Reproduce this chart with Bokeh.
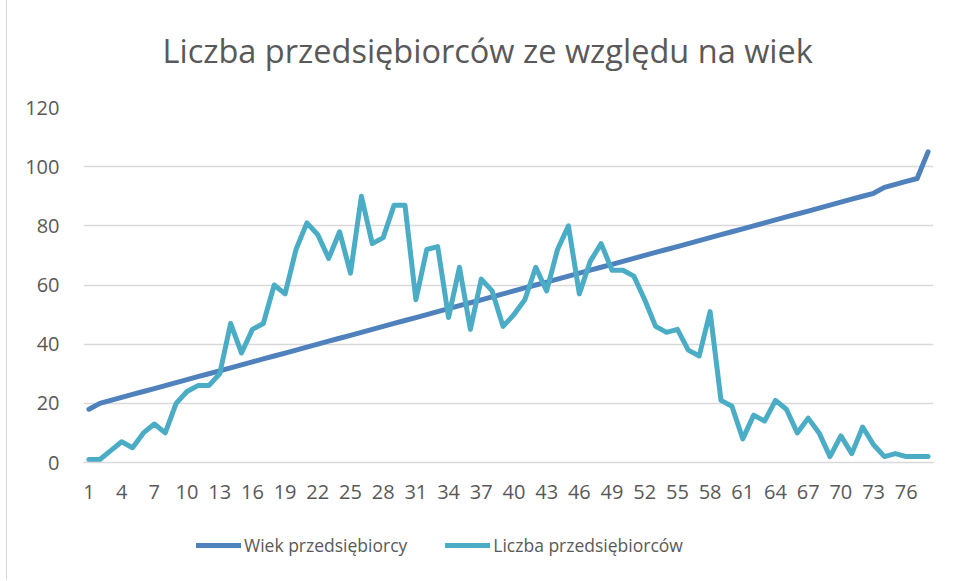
from bokeh.plotting import figure
from bokeh.layouts import column
from bokeh.models import FixedTicker, Legend, LegendItem, ColumnDataSource
from bokeh.embed import file_html
from bokeh.resources import INLINE

# Data
positions = list(range(1, 79))
wiek = [18] + list(range(20, 92)) + [93, 94, 95, 96, 105]
liczba = [1, 1, 4, 7, 5, 10, 13, 10, 20, 24,
          26, 26, 30, 47, 37, 45, 47, 60, 57, 72,
          81, 77, 69, 78, 64, 90, 74, 76, 87, 87,
          55, 72, 73, 49, 66, 45, 62, 58, 46, 50,
          55, 66, 58, 72, 80, 57, 68, 74, 65, 65,
          63, 55, 46, 44, 45, 38, 36, 51, 21, 19,
          8, 16, 14, 21, 18, 10, 15, 10, 2, 9,
          3, 12, 6, 2, 3, 2, 2, 2]
x_ticks = list(range(1, 79, 3))
y_ticks = [0, 20, 40, 60, 80, 100, 120]
title_text = "Liczba przedsiębiorców ze względu na wiek"
series_names = ["Wiek przedsiębiorcy", "Liczba przedsiębiorców"]
colors = ["#4F81BD", "#4BACC6"]

FONT = "Open Sans"
GREY = "#595959"

src = ColumnDataSource(data=dict(x=positions, wiek=wiek, liczba=liczba))

# main chart
p = figure(width=948, height=521, output_backend="svg", toolbar_location=None,
           x_range=(0.5, 78.5), y_range=(0, 120),
           min_border_left=76, min_border_right=22, min_border_top=116, min_border_bottom=50)
p.background_fill_color = "white"
p.border_fill_color = "white"
p.outline_line_color = None

p.title.text = title_text
p.title.align = "left"
p.title.offset = 79
p.title.text_font = FONT
p.title.text_font_size = "32.5px"
p.title.text_font_style = "normal"
p.title.text_color = GREY
p.title.standoff = 69

line_kw = dict(line_width=5, line_join="round", line_cap="round")
r1 = p.line("x", "wiek", source=src, line_color=colors[0], **line_kw)
r2 = p.line("x", "liczba", source=src, line_color=colors[1], **line_kw)

p.xaxis.ticker = FixedTicker(ticks=x_ticks)
p.yaxis.ticker = FixedTicker(ticks=y_ticks)
for ax in (p.xaxis, p.yaxis):
    ax.major_tick_line_color = None
    ax.minor_tick_line_color = None
    ax.major_label_text_font = FONT
    ax.major_label_text_font_size = "20px"
    ax.major_label_text_color = GREY
p.xaxis.axis_line_color = "#d9d9d9"
p.xaxis.axis_line_width = 1.5
p.yaxis.axis_line_color = None
p.xaxis.major_label_standoff = 16
p.yaxis.major_label_standoff = 18

p.xgrid.grid_line_color = None
p.ygrid.grid_line_color = "#d9d9d9"
p.ygrid.grid_line_width = 1.5

# legend strip below the chart
p2 = figure(width=948, height=68, output_backend="svg", toolbar_location=None,
            x_range=(0.5, 78.5), y_range=(0, 120), x_axis_type=None, y_axis_type=None,
            min_border=0)
p2.background_fill_color = "white"
p2.border_fill_color = "white"
p2.outline_line_color = None
p2.grid.grid_line_color = None
l1 = p2.line("x", "wiek", source=src, line_color=colors[0], visible=False, **line_kw)
l2 = p2.line("x", "liczba", source=src, line_color=colors[1], visible=False, **line_kw)

legend = Legend(items=[LegendItem(label=series_names[0], renderers=[l1]),
                       LegendItem(label=series_names[1], renderers=[l2])],
                orientation="horizontal", location=(113, 22),
                glyph_width=45, glyph_height=26, label_height=26,
                label_standoff=3, spacing=38, padding=0, margin=0,
                label_text_font=FONT, label_text_font_size="17.5px",
                label_text_color=GREY, background_fill_alpha=0,
                border_line_color=None, click_policy="none")
p2.add_layout(legend, "center")

layout = column(p, p2, spacing=0)
layout.styles = {"border-left": "1px solid #d9d9d9", "border-top": "1px solid #d9d9d9",
                 "margin-left": "6px", "margin-top": "-10px"}

open("out.html", "w").write(file_html(layout, INLINE))
